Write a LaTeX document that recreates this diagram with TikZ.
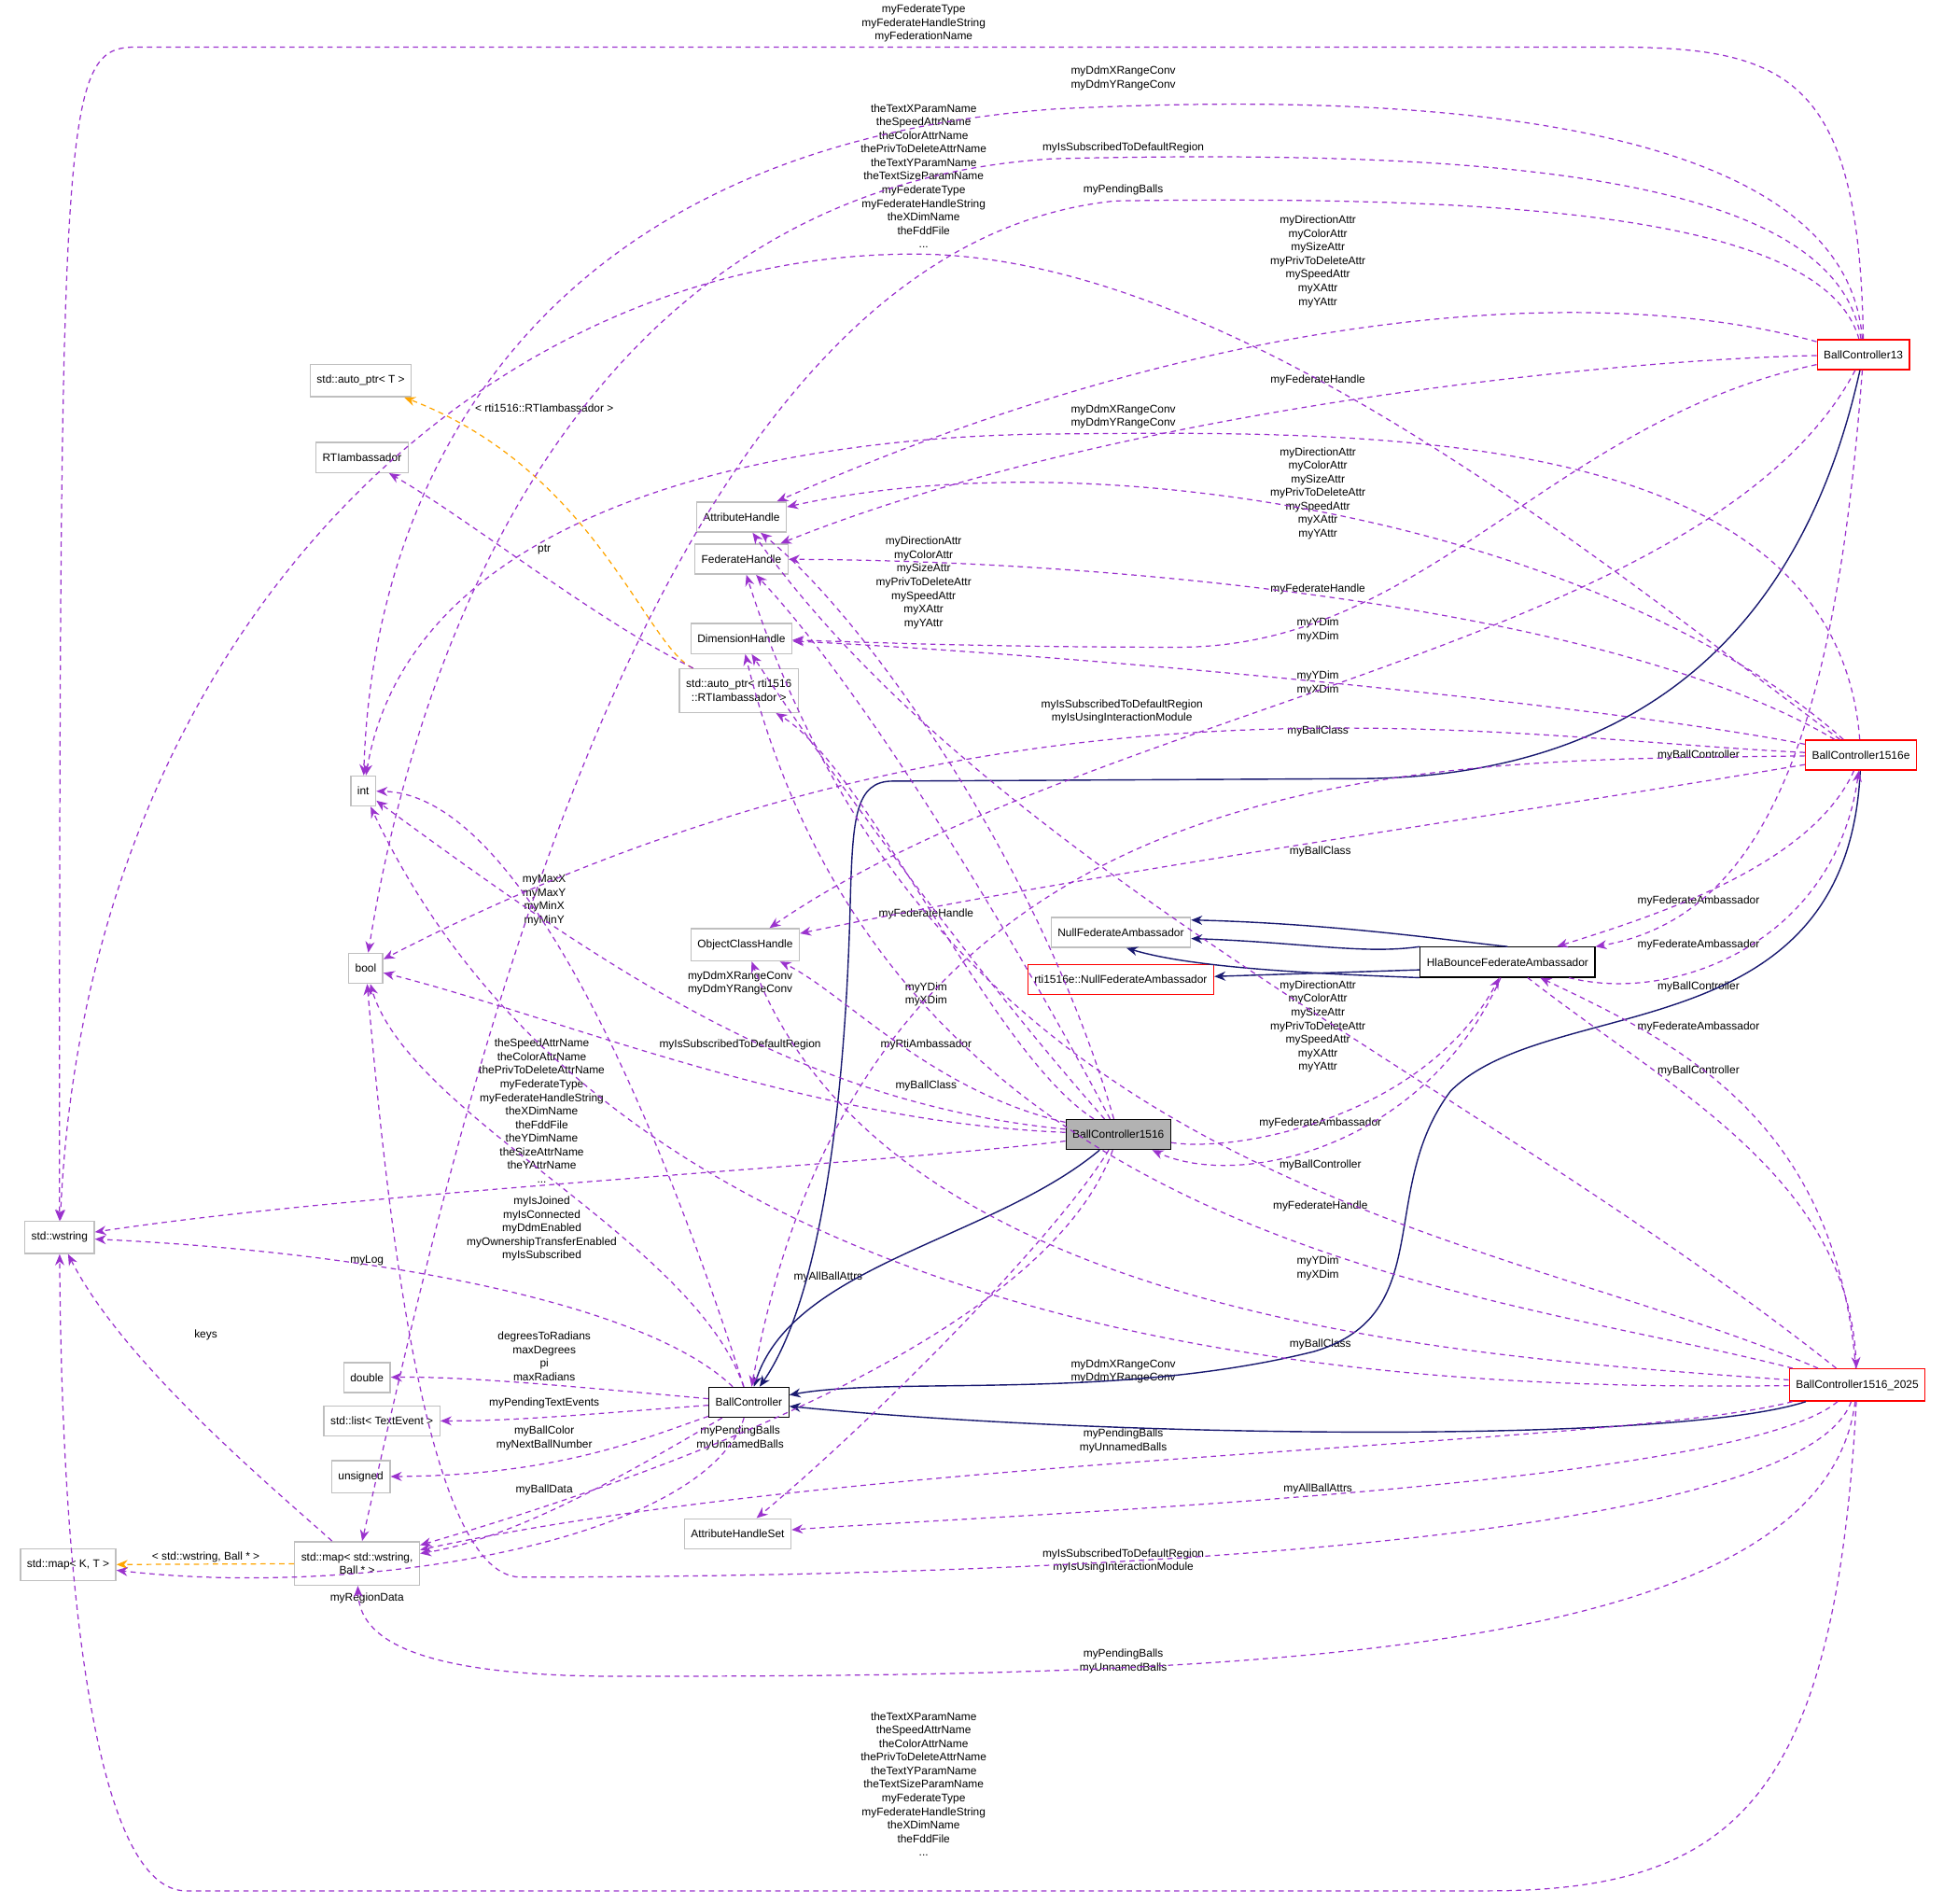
\documentclass[tikz,border=0pt]{standalone}
\usepackage{fontspec}
\setmainfont{Liberation Sans}
\usetikzlibrary{arrows.meta}
\definecolor{memcol}{HTML}{9A32CD}
\definecolor{inhcol}{HTML}{191970}
\definecolor{tplcol}{HTML}{FFA500}
\definecolor{boxgray}{HTML}{BFBFBF}
\tikzset{
  cls/.style={draw=boxgray,fill=white,inner xsep=2pt,minimum height=0.25cm,font=\fontsize{3.4}{4.15}\selectfont,align=center},
  ext/.style={cls,draw=red},
  blk/.style={cls,draw=black,line width=0.35pt},
  lbl/.style={inner sep=0pt,font=\fontsize{3.4}{4.15}\selectfont,align=center},
  mem/.style={draw=memcol,line width=0.35pt,dash pattern=on 1.6pt off 1.3pt,-{Stealth[length=3.4pt,width=2.8pt]}},
  inh/.style={draw=inhcol,line width=0.4pt,-{Stealth[length=3.4pt,width=2.8pt]}},
  tpl/.style={draw=tplcol,line width=0.35pt,dash pattern=on 1.6pt off 1.3pt,-{Stealth[length=3.4pt,width=2.8pt]}}
}
\begin{document}
\begin{tikzpicture}[x=0.0133cm,y=-0.0133cm]
  \useasboundingbox (0,0) rectangle (1568,1535);
  % classes
  \node[ext] (bcA) at (1503,286) {BallController13};
  \node[ext] (bcE) at (1501,609) {BallController1516e};
  \node[ext] (bcN) at (1498,1117) {BallController1516\_2025};
  \node[blk] (hla) at (1216,776) {HlaBounceFederateAmbassador};
  \node[cls] (nullFed) at (904,752) {NullFederateAmbassador};
  \node[ext] (rtiNull) at (904,790) {rti1516e::NullFederateAmbassador};
  \node[blk,fill=black!30] (bc1516) at (902,915) {BallController1516};
  \node[blk] (bc) at (604,1131) {BallController};
  \node[cls] (wstr) at (48,998) {std::wstring};
  \node[cls] (mapKT) at (55,1262) {std::map\textless{} K, T \textgreater};
  \node[cls] (mapWB) at (288,1261) {std::map\textless{} std::wstring,\\Ball * \textgreater};
  \node[cls] (ahs) at (595,1237) {AttributeHandleSet};
  \node[cls] (uns) at (291,1191) {unsigned};
  \node[cls] (lst) at (308,1146) {std::list\textless{} TextEvent \textgreater};
  \node[cls] (dbl) at (296,1111) {double};
  \node[cls] (bool) at (295,781) {bool};
  \node[cls] (intT) at (293,638) {int};
  \node[cls] (och) at (601,762) {ObjectClassHandle};
  \node[cls] (dimh) at (598,515) {DimensionHandle};
  \node[cls] (fedh) at (598,451) {FederateHandle};
  \node[cls] (attrh) at (598,417) {AttributeHandle};
  \node[cls] (rtiamb) at (292,369) {RTIambassador};
  \node[cls] (autoT) at (291,307) {std::auto\_ptr\textless{} T \textgreater};
  \node[cls] (autoR) at (596,557) {std::auto\_ptr\textless{} rti1516\\::RTIambassador \textgreater};

  % labels
  \node[lbl] (l1) at (745,19) {myFederateType\\myFederateHandleString\\myFederationName};
  \node[lbl] (l2) at (906,63) {myDdmXRangeConv\\myDdmYRangeConv};
  \node[lbl] (l3) at (745,142) {theTextXParamName\\theSpeedAttrName\\theColorAttrName\\thePrivToDeleteAttrName\\theTextYParamName\\theTextSizeParamName\\myFederateType\\myFederateHandleString\\theXDimName\\theFddFile\\...};
  \node[lbl] (l4) at (906,119) {myIsSubscribedToDefaultRegion};
  \node[lbl] (l5) at (906,153) {myPendingBalls};
  \node[lbl] (l6) at (1063,211) {myDirectionAttr\\myColorAttr\\mySizeAttr\\myPrivToDeleteAttr\\mySpeedAttr\\myXAttr\\myYAttr};
  \node[lbl] (l7) at (1063,307) {myFederateHandle};
  \node[lbl] (l8) at (906,336) {myDdmXRangeConv\\myDdmYRangeConv};
  \node[lbl] (l9) at (439,329) {\textless{} rti1516::RTIambassador \textgreater};
  \node[lbl] (l10) at (1063,398) {myDirectionAttr\\myColorAttr\\mySizeAttr\\myPrivToDeleteAttr\\mySpeedAttr\\myXAttr\\myYAttr};
  \node[lbl] (l11) at (439,443) {ptr};
  \node[lbl] (l12) at (745,470) {myDirectionAttr\\myColorAttr\\mySizeAttr\\myPrivToDeleteAttr\\mySpeedAttr\\myXAttr\\myYAttr};
  \node[lbl] (l13) at (1063,475) {myFederateHandle};
  \node[lbl] (l14) at (1063,508) {myYDim\\myXDim};
  \node[lbl] (l15) at (1063,551) {myYDim\\myXDim};
  \node[lbl] (l16) at (905,574) {myIsSubscribedToDefaultRegion\\myIsUsingInteractionModule};
  \node[lbl] (l17) at (1063,590) {myBallClass};
  \node[lbl] (l18) at (1370,609) {myBallController};
  \node[lbl] (l19) at (1065,687) {myBallClass};
  \node[lbl] (l20) at (439,726) {myMaxX\\myMaxY\\myMinX\\myMinY};
  \node[lbl] (l21) at (747,737) {myFederateHandle};
  \node[lbl] (l22) at (1370,727) {myFederateAmbassador};
  \node[lbl] (l23) at (1370,762) {myFederateAmbassador};
  \node[lbl] (l24) at (1370,796) {myBallController};
  \node[lbl] (l25) at (1370,828) {myFederateAmbassador};
  \node[lbl] (l26) at (1370,864) {myBallController};
  \node[lbl] (l27) at (1063,828) {myDirectionAttr\\myColorAttr\\mySizeAttr\\myPrivToDeleteAttr\\mySpeedAttr\\myXAttr\\myYAttr};
  \node[lbl] (l28) at (597,793) {myDdmXRangeConv\\myDdmYRangeConv};
  \node[lbl] (l29) at (747,802) {myYDim\\myXDim};
  \node[lbl] (l30) at (597,843) {myIsSubscribedToDefaultRegion};
  \node[lbl] (l31) at (747,843) {myRtiAmbassador};
  \node[lbl] (l32) at (747,876) {myBallClass};
  \node[lbl] (l33) at (1065,906) {myFederateAmbassador};
  \node[lbl] (l34) at (1065,940) {myBallController};
  \node[lbl] (l35) at (1065,973) {myFederateHandle};
  \node[lbl] (l36) at (1063,1023) {myYDim\\myXDim};
  \node[lbl] (l37) at (1065,1084) {myBallClass};
  \node[lbl] (l38) at (437,896) {theSpeedAttrName\\theColorAttrName\\thePrivToDeleteAttrName\\myFederateType\\myFederateHandleString\\theXDimName\\theFddFile\\theYDimName\\theSizeAttrName\\theYAttrName\\...};
  \node[lbl] (l39) at (437,991) {myIsJoined\\myIsConnected\\myDdmEnabled\\myOwnershipTransferEnabled\\myIsSubscribed};
  \node[lbl] (l40) at (296,1017) {myLog};
  \node[lbl] (l41) at (668,1030) {myAllBallAttrs};
  \node[lbl] (l42) at (166,1077) {keys};
  \node[lbl] (l43) at (439,1094) {degreesToRadians\\maxDegrees\\pi\\maxRadians};
  \node[lbl] (l44) at (906,1106) {myDdmXRangeConv\\myDdmYRangeConv};
  \node[lbl] (l45) at (439,1132) {myPendingTextEvents};
  \node[lbl] (l46) at (439,1160) {myBallColor\\myNextBallNumber};
  \node[lbl] (l47) at (597,1160) {myPendingBalls\\myUnnamedBalls};
  \node[lbl] (l48) at (906,1162) {myPendingBalls\\myUnnamedBalls};
  \node[lbl] (l49) at (439,1202) {myBallData};
  \node[lbl] (l50) at (1063,1201) {myAllBallAttrs};
  \node[lbl] (l51) at (166,1256) {\textless{} std::wstring, Ball * \textgreater};
  \node[lbl] (l52) at (906,1259) {myIsSubscribedToDefaultRegion\\myIsUsingInteractionModule};
  \node[lbl] (l53) at (296,1289) {myRegionData};
  \node[lbl] (l54) at (906,1340) {myPendingBalls\\myUnnamedBalls};
  \node[lbl] (l55) at (745,1439) {theTextXParamName\\theSpeedAttrName\\theColorAttrName\\thePrivToDeleteAttrName\\theTextYParamName\\theTextSizeParamName\\myFederateType\\myFederateHandleString\\theXDimName\\theFddFile\\...};

  % inheritance
  \draw[inh] (bcA) .. controls (1460,480) and (1350,625) .. (1100,628) -- (720,630) .. controls (690,630) and (688,660) .. (686,720) .. controls (682,900) and (660,1050) .. (bc);
  \draw[inh] (bcE) .. controls (1490,850) and (1250,800) .. (1170,880) .. controls (1110,960) and (1160,1060) .. (1060,1090) .. controls (900,1130) and (720,1110) .. (bc);
  \draw[inh] (bcN) .. controls (1350,1165) and (900,1160) .. (bc);
  \draw[inh] (bc1516) .. controls (800,1000) and (640,1020) .. (bc);
  \draw[inh] (hla.north) .. controls (1180,760) and (1080,745) .. (nullFed.10);
  \draw[inh] (hla.170) .. controls (1100,770) and (1050,760) .. (nullFed.-5);
  \draw[inh] (hla.190) .. controls (1050,785) and (960,780) .. (nullFed.-70);
  \draw[inh] (hla.185) -- (rtiNull);

  % templates
  \draw[tpl] (autoR) .. controls (520,520) and (480,380) .. (autoT);
  \draw[tpl] (mapWB) -- (mapKT);

  % BallController13
  \draw[mem] (bcA) .. controls (1500,60) and (1440,38) .. (1300,38) -- (110,38) .. controls (50,38) and (48,80) .. (wstr);
  \draw[mem] (bcA) .. controls (1490,110) and (1200,70) .. (850,88) .. controls (420,120) and (300,400) .. (intT);
  \draw[mem] (bcA) .. controls (1480,140) and (1200,120) .. (850,128) .. controls (480,150) and (340,500) .. (bool);
  \draw[mem] (bcA) .. controls (1470,170) and (1200,158) .. (900,162) .. controls (520,200) and (370,900) .. (mapWB);
  \draw[mem] (bcA) .. controls (1300,230) and (1000,240) .. (attrh);
  \draw[mem] (bcA) .. controls (1300,290) and (900,330) .. (fedh);
  \draw[mem] (bcA) .. controls (1250,340) and (1150,522) .. (950,522) .. controls (800,522) and (700,518) .. (dimh);
  \draw[mem] (bcA) .. controls (1380,520) and (880,570) .. (och);
  \draw[mem] (bcA) .. controls (1480,600) and (1420,740) .. (hla);

  % BallController1516e
  \draw[mem] (bcE) .. controls (1300,460) and (1000,210) .. (745,205) .. controls (400,200) and (70,500) .. (wstr);
  \draw[mem] (bcE) .. controls (1480,340) and (1100,348) .. (850,350) .. controls (600,352) and (330,420) .. (intT);
  \draw[mem] (bcE) .. controls (1300,430) and (900,350) .. (attrh);
  \draw[mem] (bcE) .. controls (1300,490) and (900,452) .. (fedh);
  \draw[mem] (bcE) .. controls (1300,570) and (900,530) .. (dimh);
  \draw[mem] (bcE) .. controls (1200,595) and (800,520) .. (bool);
  \draw[mem] (bcE) .. controls (1200,660) and (900,700) .. (och);
  \draw[mem] (bcE) .. controls (1150,614) and (700,600) .. (bc);
  \draw[mem] (bcE) .. controls (1460,700) and (1330,740) .. (hla);
  \draw[mem] (hla) .. controls (1350,810) and (1480,760) .. (bcE);

  % BallController1516_2025
  \draw[mem] (bcN) .. controls (1480,900) and (1350,840) .. (hla);
  \draw[mem] (hla) .. controls (1350,880) and (1490,950) .. (bcN);
  \draw[mem] (bcN) .. controls (1200,880) and (800,700) .. (attrh);
  \draw[mem] (bcN) .. controls (1200,990) and (760,960) .. (fedh);
  \draw[mem] (bcN) .. controls (1200,1040) and (720,1010) .. (dimh);
  \draw[mem] (bcN) .. controls (1200,1095) and (720,1070) .. (och);
  \draw[mem] (bcN) .. controls (1200,1120) and (520,1120) .. (intT);
  \draw[mem] (bcN) .. controls (1300,1168) and (700,1172) .. (mapWB);
  \draw[mem] (bcN) .. controls (1400,1200) and (800,1222) .. (ahs);
  \draw[mem] (bcN) .. controls (1450,1250) and (800,1272) .. (420,1272) .. controls (340,1272) and (310,950) .. (bool);
  \draw[mem] (bcN) .. controls (1470,1340) and (1000,1352) .. (500,1352) .. controls (330,1352) and (290,1320) .. (mapWB);
  \draw[mem] (bcN) .. controls (1480,1450) and (1400,1525) .. (1200,1525) -- (150,1525) .. controls (80,1525) and (50,1300) .. (wstr);

  % BallController1516
  \draw[mem] (bc1516) .. controls (800,850) and (700,620) .. (autoR);
  \draw[mem] (bc1516) .. controls (750,880) and (680,800) .. (och);
  \draw[mem] (bc1516) .. controls (800,800) and (680,640) .. (dimh);
  \draw[mem] (bc1516) .. controls (820,760) and (700,560) .. (fedh);
  \draw[mem] (bc1516) .. controls (840,700) and (700,500) .. (attrh);
  \draw[mem] (bc1516) .. controls (650,890) and (500,790) .. (intT);
  \draw[mem] (bc1516) .. controls (650,905) and (450,820) .. (bool);
  \draw[mem] (bc1516) .. controls (700,940) and (300,960) .. (wstr);
  \draw[mem] (bc1516) .. controls (850,1000) and (700,1150) .. (ahs);
  \draw[mem] (bc1516) .. controls (850,1060) and (600,1170) .. (mapWB);
  \draw[mem] (bc1516) .. controls (1000,930) and (1150,900) .. (hla);
  \draw[mem] (hla) .. controls (1150,925) and (1000,960) .. (bc1516);

  % BallController
  \draw[mem] (bc) .. controls (520,1050) and (300,1010) .. (wstr);
  \draw[mem] (bc) .. controls (560,1000) and (330,900) .. (bool);
  \draw[mem] (bc) .. controls (530,900) and (420,640) .. (intT);
  \draw[mem] (bc) .. controls (480,1120) and (380,1110) .. (dbl);
  \draw[mem] (bc) .. controls (480,1140) and (420,1146) .. (lst);
  \draw[mem] (bc) .. controls (520,1160) and (450,1190) .. (uns);
  \draw[mem] (bc) .. controls (520,1180) and (420,1240) .. (mapWB);
  \draw[mem] (bc) .. controls (570,1240) and (300,1290) .. (mapKT);

  % others
  \draw[mem] (mapWB) .. controls (220,1200) and (100,1100) .. (wstr);
  \draw[mem] (autoR) .. controls (480,500) and (380,420) .. (rtiamb);
\end{tikzpicture}
\end{document}
